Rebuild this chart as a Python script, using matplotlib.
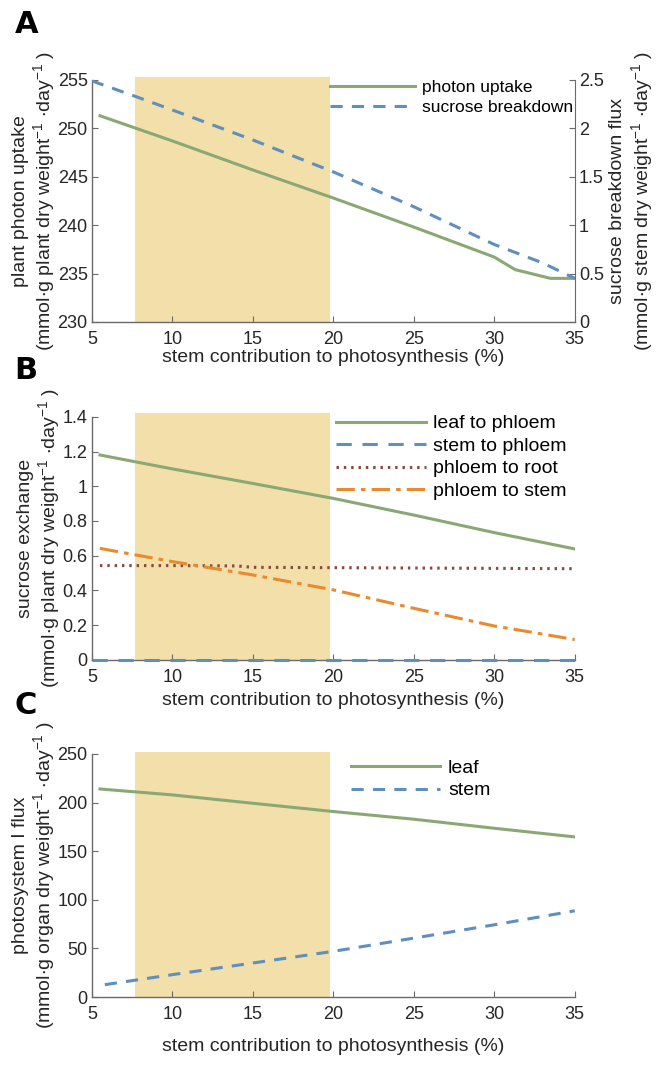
import matplotlib
matplotlib.use("Agg")
import matplotlib.pyplot as plt
from matplotlib.ticker import FuncFormatter

FAM = 'Liberation Sans'
plt.rcParams['font.family'] = [FAM, 'DejaVu Sans']
plt.rcParams['mathtext.default'] = 'regular'
plt.rcParams['mathtext.fontset'] = 'custom'
plt.rcParams['mathtext.rm'] = FAM

# ---------------- data ----------------
shade_range = [7.7, 19.8]
xticks = [5, 10, 15, 20, 25, 30, 35]

# Panel A
a_x_photon = [5.5, 10, 15, 20, 25, 30, 31.3, 33.5, 35]
a_photon = [251.3, 248.7, 245.7, 242.8, 239.8, 236.7, 235.4, 234.5, 234.5]
a_x_sucrose = [5, 7.7, 10, 15, 20, 25, 30, 33, 35]
a_sucrose = [2.49, 2.33, 2.19, 1.88, 1.55, 1.19, 0.80, 0.61, 0.45]

# Panel B
b_x = [5.5, 10, 15, 20, 25, 30, 35]
b_leaf = [1.18, 1.10, 1.016, 0.93, 0.834, 0.733, 0.639]
b_x_stem = [5, 10, 15, 20, 25, 30, 35]
b_stem = [0, 0, 0, 0, 0, 0, 0]
b_x_root = [5.5, 10, 14, 15, 20, 25, 30, 35]
b_root = [0.543, 0.543, 0.541, 0.533, 0.531, 0.529, 0.527, 0.525]
b_x_pstem = [5.5, 10, 15, 20, 25, 30, 31.3, 35]
b_pstem = [0.642, 0.566, 0.489, 0.403, 0.297, 0.195, 0.175, 0.117]

# Panel C
c_x_leaf = [5.5, 10, 15, 20, 25, 30, 35]
c_leaf = [214.0, 207.9, 199.3, 190.8, 182.9, 173.6, 164.7]
c_x_stem = [5.8, 10, 15, 20, 25, 30, 35]
c_stem = [12.7, 23.0, 35.0, 47.0, 60.6, 74.3, 88.7]

# ---------------- style ----------------
GREEN = '#8aa874'
BLUE = '#5f8fbd'
BROWN = '#8a4b3c'
ORANGE = '#e88a2e'
SHADE = '#f2dfa9'
SPINE = '#6a6a6a'
TXT = '#262626'
TICK_FS = 13
LAB_FS = 14
LEG_FS = 14

def gfmt(v, pos):
    return ('%g' % round(v, 4))

fig = plt.figure(figsize=(6.66, 10.66), dpi=100)

def style_ax(ax, ymin, ymax, yticks, xpad=1):
    ax.set_xlim(5, 35)
    ax.set_ylim(ymin, ymax)
    ax.set_xticks(xticks)
    ax.set_yticks(yticks)
    ax.yaxis.set_major_formatter(FuncFormatter(gfmt))
    ax.tick_params(direction='in', length=4.5, color=SPINE, labelcolor=TXT,
                   labelsize=TICK_FS)
    ax.tick_params(axis='x', pad=6.5)
    ax.tick_params(axis='y', pad=3)
    for s in ['top', 'right']:
        ax.spines[s].set_visible(False)
    for s in ['left', 'bottom']:
        ax.spines[s].set_color(SPINE)
        ax.spines[s].set_linewidth(1.0)
    ax.set_xlabel('stem contribution to photosynthesis (%)', fontsize=LAB_FS,
                  color=TXT, labelpad=xpad)

def shade(ax, top):
    ax.fill_between(shade_range, [ax.get_ylim()[0]] * 2, [top] * 2,
                    color=SHADE, lw=0, zorder=0, clip_on=False)

UNIT = '(mmol$\\cdot$g {} dry weight$^{{-1}}$ $\\cdot$day$^{{-1}}$ )'

def ylab(ax, l1, organ, pad=0.5):
    ax.set_ylabel(l1 + '\n' + UNIT.format(organ), fontsize=LAB_FS, color=TXT,
                  labelpad=pad, linespacing=1.12)

# Panel A
axA = fig.add_axes([0.138, 0.698, 0.725, 0.227])
style_ax(axA, 230, 255, [230, 235, 240, 245, 250, 255], xpad=1)
shade(axA, 255.3)
lA1, = axA.plot(a_x_photon, a_photon, color=GREEN, lw=2.2)
ylab(axA, 'plant photon uptake', 'plant')
axA2 = axA.twinx()
axA2.set_ylim(0, 2.5)
axA2.set_yticks([0, 0.5, 1, 1.5, 2, 2.5])
axA2.yaxis.set_major_formatter(FuncFormatter(gfmt))
axA2.tick_params(direction='in', length=4.5, color=SPINE, labelcolor=TXT,
                 labelsize=TICK_FS, pad=3)
for s in ['top', 'left', 'bottom']:
    axA2.spines[s].set_visible(False)
axA2.spines['right'].set_color(SPINE)
lA2, = axA2.plot(a_x_sucrose, a_sucrose, color=BLUE, lw=2.2, dashes=(4, 3))
axA2.set_ylabel('sucrose breakdown flux\n' + UNIT.format('stem'),
                fontsize=LAB_FS, color=TXT, labelpad=4, linespacing=1.12)
axA2.legend([lA1, lA2], ['photon uptake', 'sucrose breakdown'], loc='upper right',
            frameon=False, fontsize=12.5, handlelength=4.9, handletextpad=0.4,
            labelspacing=0.3, borderaxespad=0.0, bbox_to_anchor=(1.01, 1.03))

# Panel B
axB = fig.add_axes([0.138, 0.381, 0.725, 0.228])
style_ax(axB, 0, 1.4, [0, 0.2, 0.4, 0.6, 0.8, 1.0, 1.2, 1.4], xpad=4.6)
shade(axB, 1.42)
axB.plot(b_x, b_leaf, color=GREEN, lw=2.2, label='leaf to phloem')
axB.plot(b_x_stem, b_stem, color=BLUE, lw=2.2, dashes=(5, 3.5), label='stem to phloem',
         clip_on=False, zorder=5)
axB.plot(b_x_root, b_root, color=BROWN, lw=2.2, dashes=(0.8, 1.6), label='phloem to root')
axB.plot(b_x_pstem, b_pstem, color=ORANGE, lw=2.2, dashes=(6, 2, 1.5, 2), label='phloem to stem')
ylab(axB, 'sucrose exchange', 'plant')
axB.legend(loc='upper right', frameon=False, fontsize=LEG_FS, handlelength=4.6,
           handletextpad=0.4, labelspacing=0.25, borderaxespad=0.0,
           bbox_to_anchor=(1.0, 1.04))

# Panel C
axC = fig.add_axes([0.138, 0.0647, 0.725, 0.228])
style_ax(axC, 0, 250, [0, 50, 100, 150, 200, 250], xpad=11)
shade(axC, 252)
axC.plot(c_x_leaf, c_leaf, color=GREEN, lw=2.2, label='leaf')
axC.plot(c_x_stem, c_stem, color=BLUE, lw=2.2, dashes=(4, 3), label='stem')
ylab(axC, 'photosystem I flux', 'organ')
axC.legend(loc='upper left', frameon=False, fontsize=LEG_FS, handlelength=4.6,
           handletextpad=0.4, labelspacing=0.25, borderaxespad=0.0,
           bbox_to_anchor=(0.52, 1.01))

# Panel letters
for lab, y in [('A', 0.977), ('B', 0.652), ('C', 0.338)]:
    fig.text(0.022, y, lab, fontsize=22, fontweight='bold', family='DejaVu Sans',
             va='center', ha='left', color='black')

fig.savefig('out.png', dpi=100)
